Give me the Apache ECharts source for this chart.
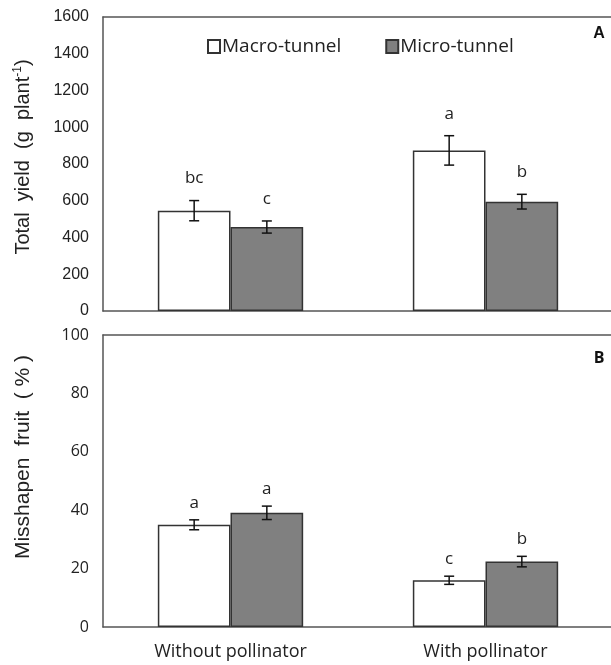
<!DOCTYPE html>
<html>
<head>
<meta charset="utf-8">
<script src="https://cdn.jsdelivr.net/npm/echarts@6/dist/echarts.min.js"></script>
<style>
  html, body { margin: 0; padding: 0; background: #fff; overflow: hidden; }
  #chart { width: 611px; height: 665px; }
</style>
</head>
<body>
<div id="chart"></div>
<script>
// categories
const categories = ['Without pollinator', 'With pollinator'];

// panel A - total yield (g plant-1)
const yieldMacro = [546, 874];
const yieldMacroErr = [55, 80];
const yieldMacroLetters = ['bc', 'a'];
const yieldMicro = [457, 595];
const yieldMicroErr = [33, 40];
const yieldMicroLetters = ['c', 'b'];

// panel B - misshapen fruit (%)
const misMacro = [35.0, 16.0];
const misMacroErr = [1.7, 1.4];
const misMacroLetters = ['a', 'c'];
const misMicro = [39.1, 22.4];
const misMicroErr = [2.3, 1.8];
const misMicroLetters = ['a', 'b'];

const yieldTicks = [0, 1600, 200];
const misTicks = [0, 100, 20];

const gapRatio = 0.43;
const axisColor = '#555';
const barBorder = '#333';
const tickFont = 'Liberation Sans';
const textFont = 'Open Sans';

const chart = echarts.init(document.getElementById('chart'));

function errRender(sign, letters, letterGap) {
    return function(params, api) {
        const x = api.value(0), v = api.value(1), e = api.value(2);
        const hi = api.coord([x, v + e]);
        const lo = api.coord([x, v - e]);
        const band = api.size([1, 0])[0];
        const cx = hi[0] + sign * band * (1 - gapRatio) / 4;
        const cap = 5;
        const st = { stroke: '#111', lineWidth: 1.5 };
        return {
            type: 'group',
            children: [
                { type: 'line', shape: { x1: cx, y1: hi[1], x2: cx, y2: lo[1] }, style: st },
                { type: 'line', shape: { x1: cx - cap, y1: hi[1], x2: cx + cap, y2: hi[1] }, style: st },
                { type: 'line', shape: { x1: cx - cap, y1: lo[1], x2: cx + cap, y2: lo[1] }, style: st },
                { type: 'text', x: cx, y: hi[1] - letterGap,
                  style: { text: letters[params.dataIndex], fill: '#222', font: '17px "' + textFont + '"',
                           textAlign: 'center', textVerticalAlign: 'middle' } }
            ]
        };
    };
}

function errData(vals, errs) {
    return vals.map((v, i) => [i, v, errs[i]]);
}

function barSeries(name, data, idx, color) {
    return {
        name: name, type: 'bar', xAxisIndex: idx * 2, yAxisIndex: idx,
        data: data, barGap: '0%', barCategoryGap: (gapRatio * 100) + '%',
        itemStyle: { color: color, borderColor: barBorder, borderWidth: 1.5 },
        emphasis: { disabled: true }
    };
}

function errSeries(vals, errs, letters, idx, sign, gap) {
    return {
        type: 'custom', xAxisIndex: idx * 2, yAxisIndex: idx, z: 10,
        data: errData(vals, errs), renderItem: errRender(sign, letters, gap),
        silent: true
    };
}

function yAxisOpt(idx, t) {
    return {
        type: 'value', gridIndex: idx, min: t[0], max: t[1], interval: t[2],
        axisLine: { show: true, lineStyle: { color: axisColor, width: 1.5 } },
        axisTick: { show: false }, splitLine: { show: false },
        axisLabel: { fontSize: 16, color: '#222', fontFamily: idx === 0 ? tickFont : textFont, margin: 14,
                     formatter: v => String(v) }
    };
}

function topLine(idx) {
    return { type: 'category', gridIndex: idx, position: 'top', data: categories,
             axisLine: { lineStyle: { color: axisColor, width: 1.5 } },
             axisTick: { show: false }, axisLabel: { show: false } };
}

const option = {
    animation: false,
    backgroundColor: '#fff',
    grid: [
        { left: 103, top: 17, right: -2, height: 294, outerBoundsMode: 'none' },
        { left: 103, top: 335, right: -2, height: 292, outerBoundsMode: 'none' }
    ],
    legend: {
        data: ['Macro-tunnel', 'Micro-tunnel'],
        left: 207, top: 37, padding: 0, icon: 'rect', itemWidth: 12, itemHeight: 13, itemGap: 44,
        textStyle: { fontSize: 19, color: '#222', fontFamily: textFont, padding: [0, 0, 0, -3] },
        selectedMode: false
    },
    xAxis: [
        { type: 'category', gridIndex: 0, data: categories,
          axisLine: { lineStyle: { color: axisColor, width: 1.5 } },
          axisTick: { show: false }, axisLabel: { show: false } },
        topLine(0),
        { type: 'category', gridIndex: 1, data: categories,
          axisLine: { lineStyle: { color: axisColor, width: 1.5 } },
          axisTick: { show: false },
          axisLabel: { fontSize: 18, color: '#222', fontFamily: textFont, margin: 16 } },
        topLine(1)
    ],
    yAxis: [yAxisOpt(0, yieldTicks), yAxisOpt(1, misTicks)],
    series: [
        barSeries('Macro-tunnel', yieldMacro, 0, '#ffffff'),
        barSeries('Micro-tunnel', yieldMicro, 0, '#808080'),
        errSeries(yieldMacro, yieldMacroErr, yieldMacroLetters, 0, -1, 22),
        errSeries(yieldMicro, yieldMicroErr, yieldMicroLetters, 0, 1, 22),
        barSeries('Macro-tunnel', misMacro, 1, '#ffffff'),
        barSeries('Micro-tunnel', misMicro, 1, '#808080'),
        errSeries(misMacro, misMacroErr, misMacroLetters, 1, -1, 17),
        errSeries(misMicro, misMicroErr, misMicroLetters, 1, 1, 17)
    ],
    graphic: [
        // the figure is cropped on the right: no closing frame edge
        { type: 'rect', shape: { x: 605, y: 18.5, width: 8, height: 291.5 }, style: { fill: '#fff' }, z: 100 },
        { type: 'rect', shape: { x: 605, y: 336.5, width: 8, height: 289.5 }, style: { fill: '#fff' }, z: 100 },
        { type: 'text', x: 23, y: 157, rotation: Math.PI / 2,
          style: { text: '{a|Total  yield  (g  plant}{s|-1}{a|)}', textAlign: 'center', textVerticalAlign: 'middle',
                   rich: { a: { fontSize: 20, fontFamily: tickFont, fill: '#222' },
                           s: { fontSize: 12, fontFamily: tickFont, fill: '#222', verticalAlign: 'top', padding: [0, 0, 10, 0] } } } },
        { type: 'text', x: 23, y: 457, rotation: Math.PI / 2,
          style: { text: 'Misshapen  fruit  ( % )', textAlign: 'center', textVerticalAlign: 'middle',
                   font: '21px "' + tickFont + '"', fill: '#222' } },
        { type: 'text', x: 599, y: 34, z: 101,
          style: { text: 'A', textAlign: 'center', textVerticalAlign: 'middle', font: 'bold 16px "' + tickFont + '"', fill: '#111' } },
        { type: 'text', x: 599, y: 358, z: 101,
          style: { text: 'B', textAlign: 'center', textVerticalAlign: 'middle', font: 'bold 16px "' + textFont + '"', fill: '#111' } }
    ]
};

chart.setOption(option);
</script>
</body>
</html>
